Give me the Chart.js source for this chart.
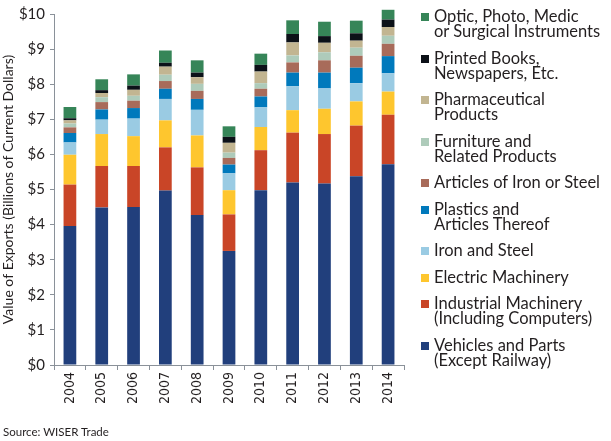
<!DOCTYPE html>
<html>
<head>
<meta charset="utf-8">
<script src="https://cdn.jsdelivr.net/npm/chart.js@4"></script>
<style>
  body { margin: 0; background: #fff; }
  #wrap { position: relative; width: 611px; height: 441px; font-family: Lato, "Open Sans", sans-serif; color: #231f20; }
  #wrap canvas { position: absolute; left: 0; top: 0; }
  #legend { position: absolute; left: 421px; top: 9px; width: 190px; }
  .item { position: relative; padding-left: 13px; font-size: 16.5px; line-height: 15px; margin-bottom: 11.5px; white-space: nowrap; }
  .item .sw { position: absolute; left: 0; top: 4px; width: 8px; height: 8px; }
  #source { position: absolute; left: 3px; top: 425px; font-size: 11.5px; }
</style>
</head>
<body>
<div id="wrap">
  <canvas id="chart" width="611" height="441"></canvas>
  <div id="legend"></div>
  <div id="source">Source: WISER Trade</div>
</div>
<script>
// années et séries (milliards de dollars)
const years = ['2004', '2005', '2006', '2007', '2008', '2009', '2010', '2011', '2012', '2013', '2014'];
const vehicles = [3.96, 4.49, 4.50, 4.97, 4.27, 3.25, 4.98, 5.20, 5.17, 5.38, 5.72];
const industrial = [1.18, 1.18, 1.17, 1.23, 1.36, 1.04, 1.14, 1.42, 1.41, 1.44, 1.41];
const electric = [0.85, 0.91, 0.85, 0.77, 0.91, 0.69, 0.66, 0.64, 0.72, 0.69, 0.66];
const ironSteel = [0.35, 0.41, 0.50, 0.61, 0.73, 0.48, 0.56, 0.68, 0.58, 0.52, 0.52];
const plastics = [0.27, 0.29, 0.30, 0.29, 0.31, 0.25, 0.31, 0.39, 0.45, 0.44, 0.49];
const articlesIron = [0.16, 0.21, 0.21, 0.22, 0.23, 0.19, 0.22, 0.29, 0.35, 0.34, 0.35];
const furniture = [0.11, 0.14, 0.14, 0.18, 0.20, 0.15, 0.16, 0.20, 0.23, 0.23, 0.23];
const pharma = [0.09, 0.12, 0.17, 0.23, 0.19, 0.28, 0.33, 0.37, 0.27, 0.20, 0.25];
const books = [0.06, 0.08, 0.12, 0.11, 0.13, 0.17, 0.19, 0.24, 0.19, 0.21, 0.21];
const optic = [0.32, 0.31, 0.32, 0.35, 0.35, 0.30, 0.32, 0.39, 0.41, 0.36, 0.28];

const yTicks = [0, 1, 2, 3, 4, 5, 6, 7, 8, 9, 10];

// bas -> haut
const series = [
    { label: ['Vehicles and Parts', '(Except Railway)'], data: vehicles, color: '#213f7c' },
    { label: ['Industrial Machinery', '(Including Computers)'], data: industrial, color: '#c94527' },
    { label: ['Electric Machinery'], data: electric, color: '#fec62e' },
    { label: ['Iron and Steel'], data: ironSteel, color: '#9acbe3' },
    { label: ['Plastics and', 'Articles Thereof'], data: plastics, color: '#0079bc' },
    { label: ['Articles of Iron or Steel'], data: articlesIron, color: '#a86b5a' },
    { label: ['Furniture and', 'Related Products'], data: furniture, color: '#aecbba' },
    { label: ['Pharmaceutical', 'Products'], data: pharma, color: '#c2b591' },
    { label: ['Printed Books,', 'Newspapers, Etc.'], data: books, color: '#0c1118' },
    { label: ['Optic, Photo, Medic', 'or Surgical Instruments'], data: optic, color: '#368558' }
];

// légende HTML (ordre inverse)
const legendEl = document.getElementById('legend');
series.slice().reverse().forEach(s => {
    const div = document.createElement('div');
    div.className = 'item';
    div.innerHTML = '<span class="sw" style="background:' + s.color + '"></span>' + s.label.join('<br>');
    legendEl.appendChild(div);
});

const axisColor = '#8a9199';

new Chart(document.getElementById('chart'), {
    type: 'bar',
    data: {
        labels: years,
        datasets: series.map(s => ({
            label: s.label.join(' '),
            data: s.data,
            backgroundColor: s.color,
            borderWidth: 0,
            barPercentage: 0.4,
            categoryPercentage: 1,
            clip: false
        }))
    },
    options: {
        responsive: false,
        animation: false,
        layout: { padding: { top: 9, right: 207, bottom: 28, left: 0 } },
        plugins: {
            legend: { display: false },
            tooltip: { enabled: false }
        },
        scales: {
            x: {
                stacked: true,
                afterFit: scale => { scale.height = 48; },
                grid: { drawOnChartArea: false, tickLength: 5, color: axisColor, offset: true },
                border: { color: axisColor },
                ticks: {
                    minRotation: 90,
                    maxRotation: 90,
                    padding: 2,
                    color: '#231f20',
                    font: { family: '"Liberation Sans Narrow", "DejaVu Sans Condensed", sans-serif', size: 14 }
                }
            },
            y: {
                stacked: true,
                min: 0,
                max: 10,
                afterFit: scale => { scale.width = 54; },
                afterBuildTicks: scale => { scale.ticks = yTicks.map(v => ({ value: v })); },
                grid: { drawOnChartArea: false, tickLength: 4, color: axisColor },
                border: { color: axisColor },
                title: {
                    display: true,
                    text: 'Value of Exports (Billions of Current Dollars)',
                    color: '#231f20',
                    padding: { top: 0, bottom: 2 },
                    font: { family: 'Lato, sans-serif', size: 14 }
                },
                ticks: {
                    padding: 5,
                    color: '#231f20',
                    font: { family: 'Lato, sans-serif', size: 15 },
                    callback: v => '$' + v
                }
            }
        }
    }
});
</script>
</body>
</html>
